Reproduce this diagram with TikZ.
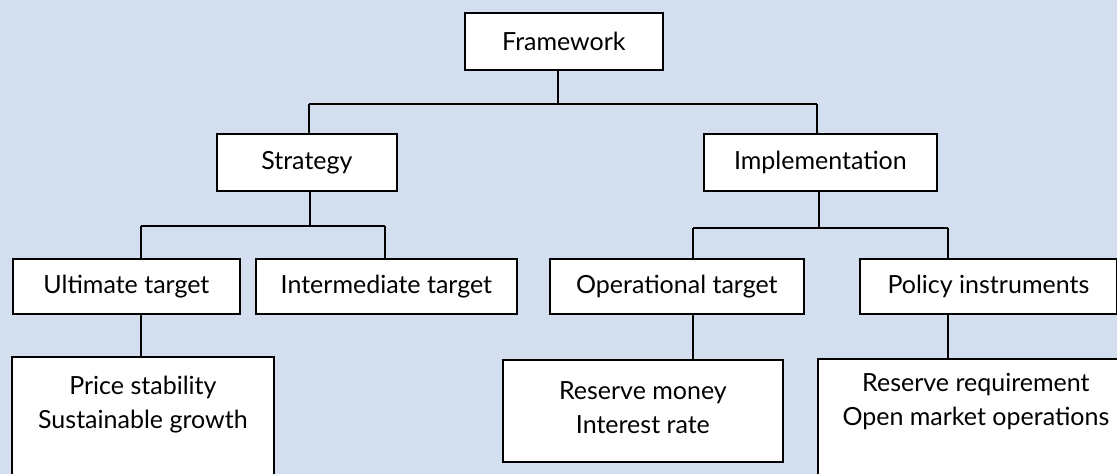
\documentclass[tikz,border=0pt]{standalone}
\usepackage{fontspec}
\setmainfont{Lato}
\definecolor{bg}{RGB}{211,223,238}
\tikzset{
  box/.style={draw=black, fill=white, line width=1.8pt, inner sep=0pt, anchor=north west,
              font=\fontsize{25}{34}\selectfont},
  lbl/.style={font=\fontsize{25}{34}\selectfont, align=center, inner sep=0pt, anchor=north},
  connA/.style={line width=2.8pt, draw=black},
  connB/.style={line width=2.2pt, draw=black},
  connC/.style={line width=1.8pt, draw=black}
}
\begin{document}
\begin{tikzpicture}[x=1pt,y=-1pt]
\useasboundingbox (0,0) rectangle (1117,474);
\fill[bg] (0,0) rectangle (1117,474);
\clip (0,0) rectangle (1117,474);
% level 0
\node[box, minimum width=198pt, minimum height=57pt] (fw) at (464,12) {Framework};
% level 1
\node[box, minimum width=180pt, minimum height=57pt] (strat) at (216,133) {Strategy};
\node[box, minimum width=233pt, minimum height=57pt] (impl) at (703,133) {Implementation};
% level 2
\node[box, minimum width=227pt, minimum height=55pt] (ult) at (12,258) {Ultimate target};
\node[box, minimum width=261pt, minimum height=55pt] (inter) at (255,258) {Intermediate target};
\node[box, minimum width=254pt, minimum height=55pt] (op) at (549,258) {Operational target};
\node[box, minimum width=257pt, minimum height=55pt] (pol) at (859,258) {Policy instruments};
% level 3
\node[box, minimum width=262pt, minimum height=160pt] (price) at (11,356) {};
\node[lbl] (priceT) at ([yshift=-20pt]price.north) {Price stability\\Sustainable growth};
\node[box, minimum width=280pt, minimum height=102pt] (rm) at (502,359) {};
\node[lbl] (rmT) at ([yshift=-22pt]rm.north) {Reserve money\\Interest rate};
\node[box, minimum width=316pt, minimum height=160pt] (rr) at (817,358) {};
\node[lbl] (rrT) at ([yshift=-15pt]rr.north) {Reserve requirement\\Open market operations};
% junctions
\coordinate (j0) at (558,104);
\coordinate (jS) at (309,104);
\coordinate (jI) at (817,104);
\coordinate (kS) at (310,226);
\coordinate (kU) at (141,226);
\coordinate (kN) at (385,226);
\coordinate (kI) at (819,228);
\coordinate (kO) at (693,228);
\coordinate (kP) at (948,228);
% connectors
\draw[connA] (fw.south -| j0) -- (j0);
\draw[connB] (jS) -- (jI);
\draw[connA] (jS) -- (jS |- strat.north);
\draw[connA] (jI) -- (jI |- impl.north);
\draw[connA] (strat.south -| kS) -- (kS);
\draw[connB] (kU) -- (kN);
\draw[connB] (kU) -- (kU |- ult.north);
\draw[connB] (kN) -- (kN |- inter.north);
\draw[connA] (impl.south -| kI) -- (kI);
\draw[connB] (kO) -- (kP);
\draw[connB] (kO) -- (kO |- op.north);
\draw[connB] (kP) -- (kP |- pol.north);
\draw[connC] (ult.south -| kU) -- (kU |- price.north);
\draw[connC] (op.south -| kO) -- (kO |- rm.north);
\draw[connC] (pol.south -| kP) -- (kP |- rr.north);
\end{tikzpicture}
\end{document}
